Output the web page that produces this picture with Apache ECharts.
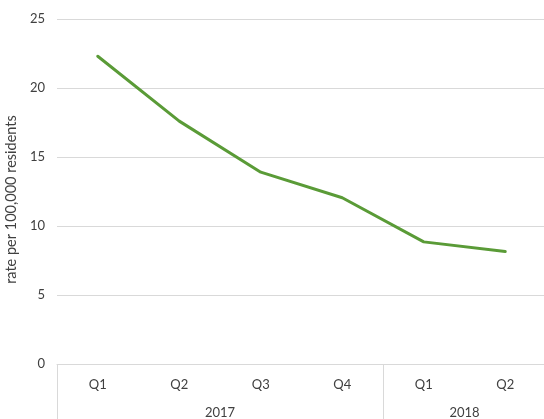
<!DOCTYPE html>
<html><head><meta charset="utf-8">
<script src="https://cdn.jsdelivr.net/npm/echarts@6/dist/echarts.min.js"></script>
<style>html,body{margin:0;padding:0;background:#fff}#c{width:544px;height:419px}</style>
</head><body><div id="c"></div>
<script>
const quarters = ['Q1','Q2','Q3','Q4','Q1','Q2'];
const years = ['2017','2018'];
const yearSpans = [4, 2];
const rates = [22.3, 17.6, 13.9, 12.05, 8.85, 8.15];
const yMin = 0, yMax = 25, yStep = 5;
const yTitle = 'rate per 100,000 residents';

const font = 'Lato, "Open Sans", sans-serif';
const txt = '#404040';
const gridCol = '#d9d9d9';

// group boundaries and centres (in quarter units)
const boundaries = [0];
const centres = {};
let acc = 0;
yearSpans.forEach((s, i) => { centres[acc + s / 2] = years[i]; acc += s; boundaries.push(acc); });

const chart = echarts.init(document.getElementById('c'));
chart.setOption({
  animation: false,
  grid: { left: 57, top: 19, bottom: 55, width: 489, containLabel: false, outerBoundsMode: 'none' },
  xAxis: [{
    type: 'category', data: quarters, boundaryGap: true,
    axisLine: { lineStyle: { color: gridCol, width: 1 } },
    axisTick: { show: true, length: 56, inside: false,
      interval: (i) => boundaries.slice(0, -1).includes(i),
      lineStyle: { color: gridCol, width: 1 } },
    axisLabel: { color: txt, fontFamily: font, fontSize: 13, margin: 14 }
  }, {
    type: 'value', min: 0, max: acc, interval: 0.5, position: 'bottom', offset: 27,
    axisLine: { show: false }, axisTick: { show: false }, splitLine: { show: false },
    axisLabel: { color: txt, fontFamily: font, fontSize: 13, margin: 15,
      formatter: (v) => centres[v] || '' }
  }],
  yAxis: {
    type: 'value', min: yMin, max: yMax, interval: yStep,
    name: yTitle, nameLocation: 'middle', nameGap: 31, nameRotate: 90,
    nameTextStyle: { color: txt, fontFamily: font, fontSize: 14.5, padding: [0, 16, 0, 0] },
    axisLine: { show: false }, axisTick: { show: false },
    axisLabel: { color: txt, fontFamily: font, fontSize: 13, margin: 12 },
    splitLine: { lineStyle: { color: gridCol, width: 1 } }
  },
  series: [{
    type: 'line', data: rates, xAxisIndex: 0, symbol: 'none', smooth: false,
    lineStyle: { color: '#5a9b37', width: 3, cap: 'round', join: 'round' }
  }]
});
</script></body></html>
